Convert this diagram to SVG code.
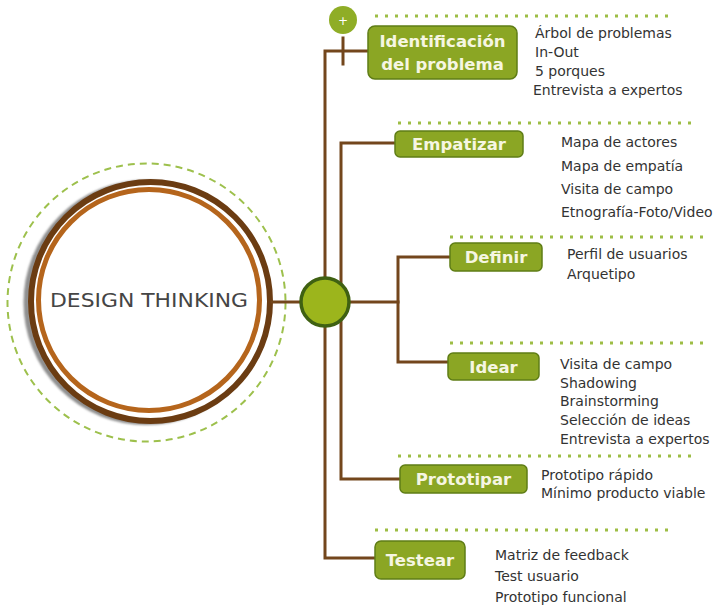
<svg xmlns="http://www.w3.org/2000/svg" width="722" height="605" viewBox="0 0 722 605">
  <defs>
    <style>
      .wire { fill: none; stroke: #73461c; stroke-width: 3; stroke-linecap: square; }
      .dots { fill: none; stroke: #9dbd45; stroke-width: 3; stroke-dasharray: 3 7; }
      .box { fill: #8ba624; stroke: #5f7d16; stroke-width: 1.5; }
      .label { font-family: "DejaVu Sans", "Liberation Sans", sans-serif; font-weight: bold; font-size: 16.5px; fill: #f6f6e2; text-anchor: middle; }
      .item { font-family: "DejaVu Sans", "Liberation Sans", sans-serif; font-size: 14px; fill: #333333; }
    </style>
    <filter id="soft" x="-10%" y="-10%" width="120%" height="120%">
      <feGaussianBlur stdDeviation="1.2"/>
    </filter>
  </defs>

  <rect width="722" height="605" fill="#ffffff"/>

  <!-- central theme -->
  <g id="design-thinking">
    <circle cx="146.5" cy="302.5" r="139" fill="none" stroke="#9dc04c" stroke-width="2" stroke-dasharray="7 5"/>
    <circle cx="146" cy="302.5" r="119.5" fill="none" stroke="#8f8f8f" stroke-width="6" filter="url(#soft)"/>
    <circle cx="150.5" cy="301.5" r="119.5" fill="#ffffff" stroke="#6b3c12" stroke-width="6"/>
    <circle cx="149" cy="300" r="110.5" fill="none" stroke="#b5651c" stroke-width="5"/>
    <text x="149" y="307" font-family="DejaVu Sans, Liberation Sans, sans-serif" font-size="20" fill="#454545" text-anchor="middle" textLength="198" lengthAdjust="spacingAndGlyphs">DESIGN THINKING</text>
  </g>

  <!-- connectors -->
  <g id="connectors">
    <line class="wire" x1="272" y1="302" x2="300" y2="302"/>
    <polyline class="wire" points="368,51 325,51 325,558 374,558"/>
    <line class="wire" x1="343" y1="38" x2="343" y2="64"/>
    <polyline class="wire" points="395,143 341,143 341,479 400,479"/>
    <line class="wire" x1="350" y1="302" x2="398" y2="302"/>
    <polyline class="wire" points="450,257 398,257 398,362 448,362"/>
  </g>

  <!-- hub -->
  <g id="hub">
    <circle cx="325" cy="302" r="24" fill="#9cb51c" stroke="#3f6112" stroke-width="3.5"/>
  </g>

  <g id="expand">
    <circle cx="343" cy="20" r="14" fill="#8fad26"/>
    <text x="343" y="24.5" font-family="DejaVu Sans, sans-serif" font-size="12" fill="#ffffff" text-anchor="middle">+</text>
  </g>

  <!-- Identificación del problema -->
  <g id="identificacion">
    <line class="dots" x1="375" y1="16" x2="673" y2="16"/>
    <rect class="box" x="368" y="26" width="149" height="53" rx="7"/>
    <text class="label" x="442.5" y="47" font-size="17">Identificación</text>
    <text class="label" x="442.5" y="70" font-size="17">del problema</text>
    <text class="item" x="535" y="38">Árbol de problemas</text>
    <text class="item" x="535" y="57">In-Out</text>
    <text class="item" x="535" y="76">5 porques</text>
    <text class="item" x="533" y="95">Entrevista a expertos</text>
  </g>

  <!-- Empatizar -->
  <g id="empatizar">
    <line class="dots" x1="398" y1="123" x2="693" y2="123"/>
    <rect class="box" x="395" y="131" width="128" height="26" rx="5"/>
    <text class="label" x="459" y="150">Empatizar</text>
    <text class="item" x="561" y="147">Mapa de actores</text>
    <text class="item" x="561" y="171">Mapa de empatía</text>
    <text class="item" x="561" y="194">Visita de campo</text>
    <text class="item" x="561" y="217">Etnografía-Foto/Video</text>
  </g>

  <!-- Definir -->
  <g id="definir">
    <line class="dots" x1="450" y1="237" x2="708" y2="237"/>
    <rect class="box" x="450" y="243" width="92" height="28" rx="5"/>
    <text class="label" x="496" y="263">Definir</text>
    <text class="item" x="567" y="259">Perfil de usuarios</text>
    <text class="item" x="567" y="279">Arquetipo</text>
  </g>

  <!-- Idear -->
  <g id="idear">
    <line class="dots" x1="450" y1="343" x2="708" y2="343"/>
    <rect class="box" x="448" y="353" width="91" height="27" rx="5"/>
    <text class="label" x="493.5" y="373">Idear</text>
    <text class="item" x="560" y="369">Visita de campo</text>
    <text class="item" x="560" y="388">Shadowing</text>
    <text class="item" x="560" y="406">Brainstorming</text>
    <text class="item" x="560" y="425">Selección de ideas</text>
    <text class="item" x="560" y="444">Entrevista a expertos</text>
  </g>

  <!-- Prototipar -->
  <g id="prototipar">
    <line class="dots" x1="398" y1="456" x2="695" y2="456"/>
    <rect class="box" x="400" y="465" width="127" height="28" rx="5"/>
    <text class="label" x="463.5" y="485">Prototipar</text>
    <text class="item" x="541" y="480">Prototipo rápido</text>
    <text class="item" x="541" y="498">Mínimo producto viable</text>
  </g>

  <!-- Testear -->
  <g id="testear">
    <line class="dots" x1="375" y1="530" x2="670" y2="530"/>
    <rect class="box" x="375" y="541" width="90" height="38" rx="6"/>
    <text class="label" x="420" y="566">Testear</text>
    <text class="item" x="495" y="560">Matriz de feedback</text>
    <text class="item" x="495" y="581">Test usuario</text>
    <text class="item" x="495" y="602">Prototipo funcional</text>
  </g>
</svg>
